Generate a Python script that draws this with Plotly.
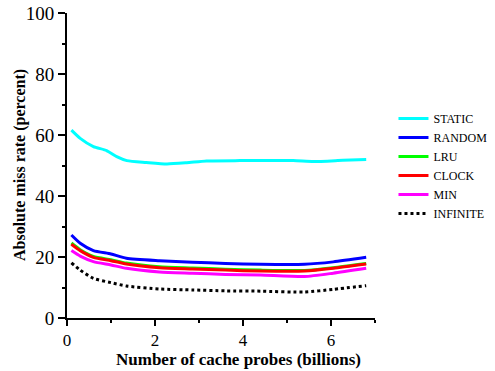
import plotly.graph_objects as go

x_probes = [0.1, 0.3, 0.6, 1.0, 1.35, 2.1, 2.85, 3.6, 4.4, 5.4, 6.05, 6.8]
static_x = [0.1, 0.3, 0.6, 0.9, 1.13, 1.36, 1.8, 2.27, 2.72, 3.17, 3.93, 5.14, 5.6, 6.27, 6.8]
static_y = [61.6, 58.9, 56.2, 54.9, 52.9, 51.6, 51.0, 50.5, 50.9, 51.5, 51.6, 51.6, 51.3, 51.7, 52.0]
random_y = [27.2, 24.5, 22.1, 21.0, 19.6, 18.8, 18.3, 17.9, 17.6, 17.6, 18.4, 19.9]
lru_y = [24.6, 22.4, 20.2, 19.1, 18.0, 16.8, 16.4, 16.0, 15.7, 15.6, 16.5, 17.9]
clock_y = [24.2, 22.1, 19.9, 18.8, 17.7, 16.5, 16.1, 15.7, 15.4, 15.4, 16.3, 17.7]
min_y = [22.1, 20.3, 18.5, 17.4, 16.3, 15.1, 14.7, 14.3, 14.1, 13.6, 14.7, 16.3]
infinite_y = [18.1, 15.7, 13.0, 11.6, 10.5, 9.5, 9.2, 8.9, 8.8, 8.5, 9.4, 10.6]

series = [
    ("STATIC", static_x, static_y, "#00FFFF", "solid"),
    ("RANDOM", x_probes, random_y, "#0000FF", "solid"),
    ("LRU", x_probes, lru_y, "#00FF00", "solid"),
    ("CLOCK", x_probes, clock_y, "#FF0000", "solid"),
    ("MIN", x_probes, min_y, "#FF00FF", "solid"),
    ("INFINITE", x_probes, infinite_y, "#000000", "dot"),
]

fig = go.Figure()
for name, xs, ys, color, dash in series:
    fig.add_trace(go.Scatter(x=xs, y=ys, name=name, mode="lines",
                             line=dict(color=color, width=3, dash=dash, shape="spline", smoothing=0.6)))

serif = "Liberation Serif"
fig.update_layout(
    width=495, height=371,
    margin=dict(l=67, r=120, t=13, b=53, autoexpand=False),
    plot_bgcolor="white", paper_bgcolor="white",
    font=dict(family=serif, color="black"),
    showlegend=True,
    legend=dict(x=1.06, y=0.702, xanchor="left", yanchor="top",
                font=dict(family=serif, size=12, color="black"),
                bgcolor="rgba(0,0,0,0)", tracegroupgap=0),
    xaxis=dict(range=[0, 7], tickvals=[0, 2, 4, 6], showgrid=False, zeroline=False,
               showline=True, linecolor="black", linewidth=2, automargin=False,
               ticks="outside", ticklen=6, tickwidth=2, tickcolor="black",
               minor=dict(tickvals=[1, 3, 5, 7], ticks="outside", ticklen=3, tickwidth=2, tickcolor="black"),
               tickfont=dict(family=serif, size=17, color="black")),
    yaxis=dict(range=[0, 100], tickvals=[0, 20, 40, 60, 80, 100], showgrid=False, zeroline=False,
               showline=True, linecolor="black", linewidth=2, automargin=False,
               ticks="outside", ticklen=7, tickwidth=2, tickcolor="black",
               minor=dict(tickvals=[10, 30, 50, 70, 90], ticks="outside", ticklen=3, tickwidth=2, tickcolor="black"),
               tickfont=dict(family=serif, size=19, color="black")),
    annotations=[
        dict(text="<b>Number of cache probes (billions)</b>", xref="paper", yref="paper",
             x=(238 - 67) / 308, y=-(359 - 318) / 305, xanchor="center", yanchor="middle",
             showarrow=False, font=dict(family=serif, size=17, color="black")),
        dict(text="<b>Absolute miss rate (percent)</b>", xref="paper", yref="paper",
             x=-(67 - 20) / 308, y=(318 - 165) / 305, xanchor="center", yanchor="middle",
             textangle=-90, showarrow=False, font=dict(family=serif, size=16, color="black")),
    ],
)

fig.write_html("out.html", post_script="document.body.style.margin='0';",
               config={"displayModeBar": False})
